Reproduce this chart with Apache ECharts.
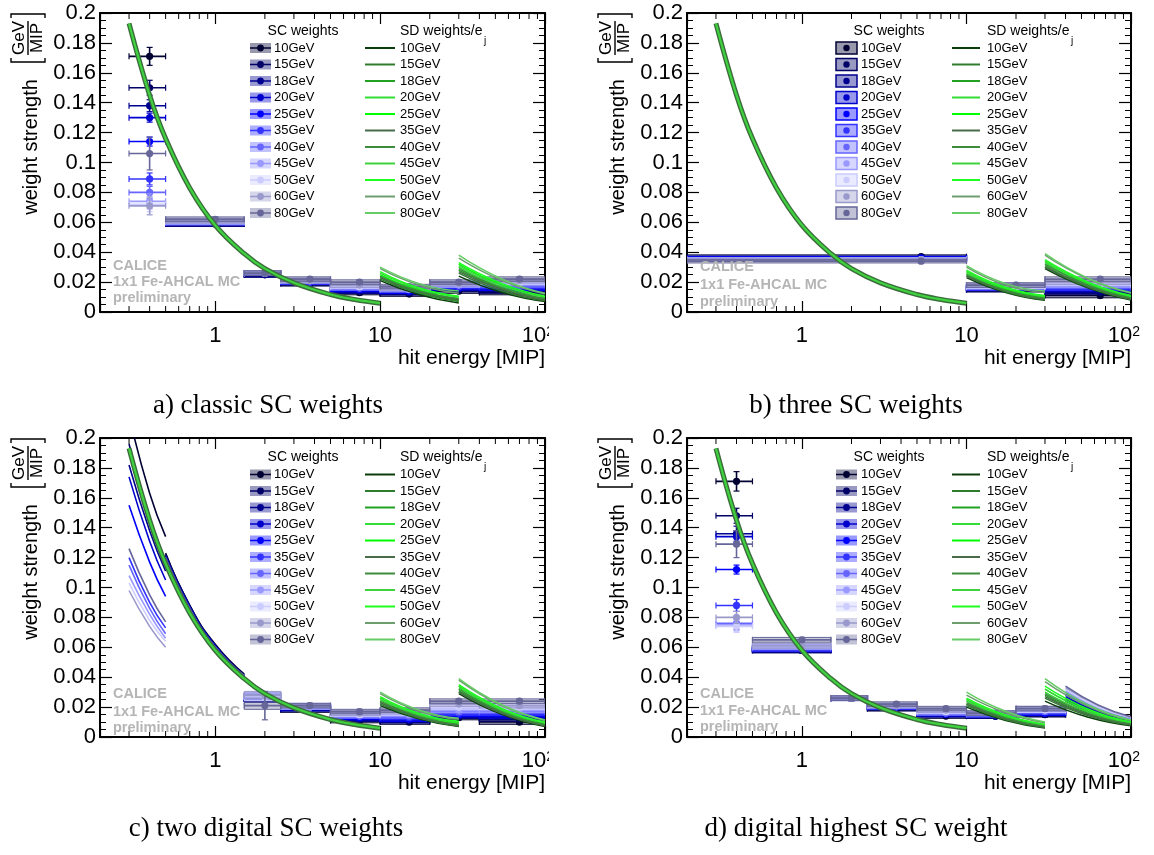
<!DOCTYPE html>
<html><head><meta charset="utf-8">
<script src="https://cdn.jsdelivr.net/npm/echarts@6/dist/echarts.min.js"></script>
<style>html,body{margin:0;padding:0;background:#fff}#c{width:1154px;height:855px}</style>
</head><body><div id="c"></div>
<script>
// ---------------- data ----------------
const energies = ['10GeV','15GeV','18GeV','20GeV','25GeV','35GeV','40GeV','45GeV','50GeV','60GeV','80GeV'];
const scColors = ['#000033','#000066','#00008f','#0000cc','#0000ff','#3333ff','#6666ff','#9999ff','#ccccff','#9999cc','#666699'];
const sdColors = ['#0b3d0b','#2e7d2e','#22a022','#33dd33','#00ff00','#4a6b4a','#3c8c3c','#3fd43f','#1fff1f','#6e9e6e','#66cc66'];
const xMajor = [1, 10, 100];
const xMajorLabels = ['1', '10', '10²'];
const xMinor = [0.3,0.4,0.5,0.6,0.7,0.8,0.9,2,3,4,5,6,7,8,9,20,30,40,50,60,70,80,90];
const yTickLabels = ['0','0.02','0.04','0.06','0.08','0.1','0.12','0.14','0.16','0.18','0.2'];
const captions = ['a) classic SC weights','b) three SC weights','c) two digital SC weights','d) digital highest SC weight'];
const watermark = ['CALICE','1x1 Fe-AHCAL MC','preliminary'];
const yTitle = 'weight strength';
const yUnitTop = 'GeV';
const yUnitBottom = 'MIP';
const xTitle = 'hit energy [MIP]';
const scHeader = 'SC weights';
const sdHeader = 'SD weights/e';
const sdHeaderSub = 'j';

// shared SD weight band (low energy range)
const sdLowX = [0.3,0.4,0.5,0.7,1,1.5,2,3,5,7,10];
const sdLow  = [0.193,0.145,0.116,0.083,0.058,0.039,0.029,0.0195,0.0117,0.0084,0.0059];
const sdMidX = [10,17.3,30];
const sdHighX = [30,55,100];

// panel a: classic SC weights
const binsA = [[0.3,0.5],[0.5,1.5],[1.5,2.5],[2.5,5],[5,10],[10,20],[20,40],[40,100]];
const ptsA = [0.4,1,2,3.75,7.5,15,30,70];
const scA = [
 [0.171,0.059,0.025,0.019,0.013,0.012,0.014,0.013],
 [0.150,0.059,0.025,0.019,0.014,0.013,0.015,0.014],
 [0.138,0.059,0.025,0.020,0.014,0.013,0.016,0.015],
 [0.130,0.060,0.026,0.020,0.015,0.014,0.016,0.016],
 [0.114,0.060,0.026,0.020,0.015,0.014,0.017,0.016],
 [0.089,0.060,0.026,0.020,0.016,0.015,0.017,0.017],
 [0.080,0.060,0.026,0.021,0.016,0.015,0.018,0.018],
 [0.074,0.060,0.026,0.021,0.017,0.015,0.018,0.019],
 [0.072,0.061,0.026,0.021,0.017,0.016,0.019,0.020],
 [0.071,0.061,0.026,0.021,0.018,0.016,0.019,0.021],
 [0.106,0.062,0.026,0.022,0.020,0.017,0.020,0.022]
];
const errFirstA = [0.006,0.005,0.004,0.003,0.003,0.004,0.004,0.005,0.005,0.006,0.011];
const boxA = [0,0.0016,0.0016,0.0015,0.0015,0.0015,0.0015,0.0015];
const sd2A = [
 [0.021,0.0115,0.0060],[0.022,0.0125,0.0070],[0.023,0.0130,0.0075],[0.024,0.0140,0.0085],
 [0.025,0.0145,0.0090],[0.023,0.0135,0.0080],[0.024,0.0140,0.0090],[0.026,0.0155,0.0100],
 [0.027,0.0160,0.0105],[0.029,0.0180,0.0125],[0.030,0.0190,0.0140]
];
const sd3A = [
 [0.024,0.0130,0.0070],[0.026,0.0140,0.0075],[0.028,0.0155,0.0085],[0.030,0.0165,0.0090],
 [0.032,0.0180,0.0100],[0.027,0.0150,0.0080],[0.029,0.0160,0.0090],[0.031,0.0175,0.0100],
 [0.033,0.0190,0.0105],[0.036,0.0210,0.0120],[0.038,0.0220,0.0125]
];

// panel b: three SC weights
const binsB = [[0.2,10],[10,30],[30,100]];
const ptsB = [5.3,20,65];
const scB = [
 [0.037,0.015,0.011],[0.036,0.015,0.013],[0.036,0.016,0.014],[0.036,0.016,0.015],
 [0.036,0.016,0.016],[0.035,0.016,0.016],[0.035,0.017,0.017],[0.035,0.017,0.018],
 [0.035,0.017,0.019],[0.035,0.018,0.020],[0.034,0.018,0.022]
];
const errFirstB = [0.0012,0.0012,0.0012,0.0012,0.0012,0.0012,0.0012,0.0012,0.0012,0.0012,0.0012];
const boxB = [0.0012,0.0015,0.0015];
const sd2B = [
 [0.023,0.0130,0.0078],[0.024,0.0135,0.0082],[0.025,0.0140,0.0088],[0.026,0.0150,0.0095],
 [0.027,0.0155,0.0100],[0.024,0.0140,0.0085],[0.025,0.0145,0.0092],[0.027,0.0160,0.0105],
 [0.028,0.0165,0.0110],[0.030,0.0180,0.0130],[0.031,0.0190,0.0140]
];
const sd3B = [
 [0.029,0.0160,0.0080],[0.030,0.0165,0.0085],[0.031,0.0170,0.0090],[0.033,0.0180,0.0095],
 [0.034,0.0190,0.0100],[0.030,0.0170,0.0085],[0.032,0.0180,0.0095],[0.034,0.0195,0.0105],
 [0.035,0.0200,0.0110],[0.038,0.0220,0.0125],[0.039,0.0225,0.0130]
];

// panel c: two digital SC weights
const binsC = [[1.5,2.5],[2.5,5],[5,10],[10,20],[20,40],[40,100]];
const ptsC = [2,3.75,7.5,15,30,70];
const scC = [
 [0.026,0.018,0.011,0.010,0.013,0.010],[0.026,0.019,0.012,0.011,0.014,0.012],
 [0.026,0.019,0.012,0.011,0.014,0.013],[0.026,0.019,0.013,0.012,0.015,0.014],
 [0.027,0.020,0.013,0.012,0.015,0.015],[0.027,0.020,0.014,0.013,0.016,0.016],
 [0.027,0.020,0.014,0.014,0.017,0.017],[0.027,0.020,0.015,0.015,0.018,0.018],
 [0.027,0.021,0.015,0.016,0.020,0.020],[0.028,0.021,0.016,0.017,0.022,0.021],
 [0.021,0.021,0.017,0.018,0.024,0.024]
];
const errFirstC = [0.002,0.002,0.002,0.002,0.002,0.002,0.002,0.002,0.002,0.002,0.0095];
const boxC = [0.0025,0.0015,0.0015,0.0015,0.0015,0.0015];
const digXC1 = [0.3,0.4,0.5];
const digC1 = [
 [0.215,0.163,0.134],[0.196,0.147,0.118],[0.182,0.138,0.111],[0.174,0.131,0.105],
 [0.155,0.117,0.094],[0.120,0.090,0.073],[0.115,0.086,0.069],[0.108,0.082,0.066],
 [0.103,0.078,0.064],[0.098,0.074,0.060],[0.126,0.095,0.077]
];
const digXC2 = [0.5,0.7,1,1.5];
const digC2 = [
 [0.123,0.088,0.062,0.042],[0.122,0.088,0.061,0.041],[0.121,0.087,0.061,0.041],[0.121,0.087,0.061,0.041],
 [0.120,0.086,0.060,0.041],[0.119,0.085,0.060,0.040],[0.119,0.085,0.060,0.040],[0.118,0.085,0.059,0.040],
 [0.118,0.084,0.059,0.040],[0.118,0.084,0.059,0.040],[0.120,0.086,0.060,0.041]
];
const sd2C = [
 [0.021,0.0120,0.0070],[0.022,0.0125,0.0074],[0.023,0.0130,0.0078],[0.025,0.0140,0.0088],
 [0.026,0.0150,0.0095],[0.023,0.0130,0.0076],[0.024,0.0138,0.0084],[0.026,0.0150,0.0098],
 [0.027,0.0158,0.0105],[0.029,0.0172,0.0118],[0.030,0.0180,0.0125]
];
const sd3C = [
 [0.029,0.0150,0.0070],[0.030,0.0157,0.0075],[0.031,0.0163,0.0080],[0.033,0.0175,0.0088],
 [0.034,0.0182,0.0093],[0.030,0.0158,0.0076],[0.032,0.0168,0.0084],[0.034,0.0183,0.0095],
 [0.035,0.0190,0.0100],[0.038,0.0208,0.0110],[0.039,0.0214,0.0114]
];

// panel d: digital highest SC weight
const binsD = [[0.3,0.5],[0.5,1.5],[1.5,2.5],[2.5,5],[5,10],[10,20],[20,40]];
const ptsD = [0.4,1,2,3.75,7.5,15,30];
const scD = [
 [0.171,0.058,0.026,0.019,0.014,0.014,0.015],[0.148,0.058,0.026,0.019,0.015,0.014,0.015],
 [0.136,0.058,0.026,0.020,0.015,0.014,0.016],[0.134,0.059,0.026,0.020,0.015,0.015,0.016],
 [0.112,0.059,0.026,0.020,0.016,0.015,0.016],[0.088,0.059,0.026,0.020,0.016,0.015,0.017],
 [0.076,0.060,0.026,0.021,0.016,0.015,0.017],[0.075,0.060,0.026,0.021,0.017,0.016,0.018],
 [0.074,0.061,0.026,0.021,0.017,0.016,0.018],[0.080,0.061,0.026,0.021,0.018,0.016,0.019],
 [0.129,0.065,0.026,0.022,0.019,0.016,0.019]
];
const errFirstD = [0.0065,0.005,0.005,0.004,0.003,0.004,0.004,0.004,0.004,0.004,0.009];
const boxD = [0,0.0016,0.0016,0.0015,0.0015,0.0015,0.0015];
const digXD = [40,63,100];
const digD = [
 [0.024,0.0150,0.0095],[0.025,0.0160,0.0100],[0.026,0.0165,0.0105],[0.027,0.0170,0.0110],
 [0.028,0.0180,0.0110],[0.029,0.0185,0.0115],[0.030,0.0190,0.0120],[0.031,0.0195,0.0125],
 [0.032,0.0200,0.0130],[0.033,0.0210,0.0130],[0.034,0.0215,0.0135]
];
const sd2D = [
 [0.020,0.0110,0.0060],[0.021,0.0116,0.0064],[0.022,0.0122,0.0068],[0.024,0.0134,0.0076],
 [0.025,0.0140,0.0080],[0.022,0.0122,0.0066],[0.023,0.0128,0.0072],[0.025,0.0142,0.0082],
 [0.026,0.0148,0.0086],[0.028,0.0162,0.0095],[0.030,0.0172,0.0100]
];
const sd3D = [
 [0.024,0.0132,0.0076],[0.026,0.0142,0.0080],[0.028,0.0152,0.0085],[0.030,0.0165,0.0092],
 [0.032,0.0176,0.0098],[0.027,0.0148,0.0082],[0.029,0.0158,0.0088],[0.032,0.0176,0.0097],
 [0.034,0.0186,0.0102],[0.037,0.0204,0.0110],[0.039,0.0214,0.0114]
];

// ---------------- layout / assembly ----------------
const FONT = '"Liberation Sans", Arial, Helvetica, sans-serif';
const SERIF = '"Liberation Serif", "Times New Roman", serif';

const panels = [
 {bins:binsA, pts:ptsA, sc:scA, errFirst:errFirstA, box:boxA, sd2:sd2A, sd3:sd3A, dig:[]},
 {bins:binsB, pts:ptsB, sc:scB, errFirst:errFirstB, box:boxB, sd2:sd2B, sd3:sd3B, dig:[]},
 {bins:binsC, pts:ptsC, sc:scC, errFirst:errFirstC, box:boxC, sd2:sd2C, sd3:sd3C, dig:[{xs:digXC1, rows:digC1},{xs:digXC2, rows:digC2}]},
 {bins:binsD, pts:ptsD, sc:scD, errFirst:errFirstD, box:boxD, sd2:sd2D, sd3:sd3D, dig:[{xs:digXD, rows:digD}]}
];

const L = [
 {left:100, top:13, w:445, h:299, capX:268, capY:406, ytX:31, ytY:147, frX:28, frY:38, wmX:113, wmY:[265.5,282,297.5], xtY:358,
  leg:{head:31, row0:48, iconX:250, textX:274, scHeadX:303, sdX1:365, sdX2:395, sdTextX:400, boxStyle:false}},
 {left:687, top:13, w:444, h:299, capX:856, capY:406, ytX:618, ytY:147, frX:615, frY:38, wmX:700, wmY:[267,285,302], xtY:358,
  leg:{head:31, row0:48, iconX:836, textX:861, scHeadX:889, sdX1:952, sdX2:980, sdTextX:987, boxStyle:true}},
 {left:100, top:438, w:445, h:299, capX:266, capY:829, ytX:31, ytY:572, frX:28, frY:463, wmX:113, wmY:[694,712,728], xtY:783,
  leg:{head:457, row0:474.5, iconX:250, textX:274, scHeadX:303, sdX1:365, sdX2:395, sdTextX:400, boxStyle:false}},
 {left:687, top:438, w:444, h:299, capX:856, capY:829, ytX:618, ytY:572, frX:615, frY:463, wmX:700, wmY:[694,711,727], xtY:783,
  leg:{head:457.5, row0:474.5, iconX:836, textX:861, scHeadX:889, sdX1:952, sdX2:980, sdTextX:987, boxStyle:false}}
];

function rgba(hex, a) {
  const n = parseInt(hex.slice(1), 16);
  return 'rgba(' + ((n >> 16) & 255) + ',' + ((n >> 8) & 255) + ',' + (n & 255) + ',' + a + ')';
}

function xLabelFmt(v) {
  const k = xMajor.findIndex(m => Math.abs(Math.log10(m) - Math.log10(v)) < 1e-6);
  if (k < 0) return '';
  const s = xMajorLabels[k];
  if (s.indexOf('²') >= 0) return '{n|' + s.replace('²', '') + '}{s|2}';
  return '{n|' + s + '}';
}
function yLabelFmt(v) {
  const s = yTickLabels.find(t => Math.abs(parseFloat(t) - v) < 1e-9);
  return s === undefined ? '' : s;
}

const grids = [], xAxes = [], yAxes = [];
L.forEach((l, i) => {
  grids.push({left:l.left, top:l.top, width:l.w, height:l.h, containLabel:false, outerBoundsMode:'none'});
  const axLine = {show:true, onZero:false, lineStyle:{color:'#000', width:2}};
  xAxes.push({type:'log', logBase:10, gridIndex:i, min:0.2, max:100, position:'bottom',
    axisLine:axLine, axisTick:{show:true, inside:true, length:11, lineStyle:{color:'#000', width:1.2}},
    splitLine:{show:false}, minorTick:{show:false},
    axisLabel:{show:true, margin:13, formatter:xLabelFmt, color:'#000',
      rich:{n:{fontSize:22, fontFamily:FONT, color:'#000', verticalAlign:'top'},
            s:{fontSize:14, fontFamily:FONT, color:'#000', verticalAlign:'top', padding:[0,14,0,0]}}}});
  xAxes.push({type:'log', logBase:10, gridIndex:i, min:0.2, max:100, position:'top',
    axisLine:axLine, axisTick:{show:true, inside:true, length:11, lineStyle:{color:'#000', width:1.2}},
    splitLine:{show:false}, axisLabel:{show:false}});
  yAxes.push({type:'value', gridIndex:i, min:0, max:0.2, interval:0.02, position:'left',
    axisLine:axLine, axisTick:{show:true, inside:true, length:12, lineStyle:{color:'#000', width:1.2}},
    minorTick:{show:true, splitNumber:4, length:6, lineStyle:{color:'#000', width:1}},
    splitLine:{show:false},
    axisLabel:{show:true, margin:4, fontSize:22, fontFamily:FONT, color:'#000', formatter:yLabelFmt}});
  yAxes.push({type:'value', gridIndex:i, min:0, max:0.2, interval:0.02, position:'right',
    axisLine:axLine, axisTick:{show:true, inside:true, length:12, lineStyle:{color:'#000', width:1.2}},
    minorTick:{show:true, splitNumber:4, length:6, lineStyle:{color:'#000', width:1}},
    splitLine:{show:false}, axisLabel:{show:false}});
});

function minorTickRender(params, api) {
  const v = api.value(0);
  const b = api.coord([v, 0]);
  const t = api.coord([v, 0.2]);
  return {type:'group', children:[
    {type:'line', shape:{x1:b[0], y1:b[1], x2:b[0], y2:b[1] - 6}, style:{stroke:'#000', lineWidth:1}},
    {type:'line', shape:{x1:t[0], y1:t[1], x2:t[0], y2:t[1] + 6}, style:{stroke:'#000', lineWidth:1}}
  ]};
}

function makeScRender(col) {
  return function (params, api) {
    const lo = api.value(0), hi = api.value(1), xc = api.value(2), y = api.value(3), err = api.value(4), bx = api.value(5);
    const pL = api.coord([lo, y]), pH = api.coord([hi, y]), pC = api.coord([xc, y]);
    const ch = [];
    if (bx > 0) {
      const a = api.coord([lo, y + bx]), b = api.coord([hi, y - bx]);
      ch.push({type:'rect', shape:{x:a[0], y:a[1], width:b[0] - a[0], height:b[1] - a[1]},
        style:{fill:rgba(col, 0.35), stroke:col, lineWidth:1}});
    }
    ch.push({type:'line', shape:{x1:pL[0], y1:pL[1], x2:pH[0], y2:pH[1]}, style:{stroke:col, lineWidth:1.6}});
    ch.push({type:'line', shape:{x1:pL[0], y1:pL[1] - 3, x2:pL[0], y2:pL[1] + 3}, style:{stroke:col, lineWidth:1.2}});
    ch.push({type:'line', shape:{x1:pH[0], y1:pH[1] - 3, x2:pH[0], y2:pH[1] + 3}, style:{stroke:col, lineWidth:1.2}});
    if (err > 0) {
      const et = api.coord([xc, y + err]), eb = api.coord([xc, y - err]);
      ch.push({type:'line', shape:{x1:et[0], y1:et[1], x2:eb[0], y2:eb[1]}, style:{stroke:col, lineWidth:1.6}});
      ch.push({type:'line', shape:{x1:et[0] - 3, y1:et[1], x2:et[0] + 3, y2:et[1]}, style:{stroke:col, lineWidth:1.2}});
      ch.push({type:'line', shape:{x1:eb[0] - 3, y1:eb[1], x2:eb[0] + 3, y2:eb[1]}, style:{stroke:col, lineWidth:1.2}});
    }
    ch.push({type:'circle', shape:{cx:pC[0], cy:pC[1], r:3.6}, style:{fill:col}});
    return {type:'group', children:ch};
  };
}

const series = [];
panels.forEach((pd, i) => {
  const xi = 2 * i, yi = 2 * i;
  series.push({type:'custom', xAxisIndex:xi, yAxisIndex:yi, data:xMinor.map(v => [v, 0]),
    encode:{x:0, y:1}, clip:false, silent:true, z:10, renderItem:minorTickRender});
  energies.forEach((en, e) => {
    const data = pd.sc[e].map((y, b) => [pd.bins[b][0], pd.bins[b][1], pd.pts[b], y,
      b === 0 ? pd.errFirst[e] : pd.box[b], pd.box[b]]);
    series.push({type:'custom', name:en, xAxisIndex:xi, yAxisIndex:yi, data,
      encode:{x:2, y:3}, clip:true, silent:true, z:2, renderItem:makeScRender(scColors[e])});
  });
  pd.dig.forEach(dg => dg.rows.forEach((row, e) => {
    series.push({type:'line', xAxisIndex:xi, yAxisIndex:yi, data:dg.xs.map((x, k) => [x, row[k]]),
      smooth:true, symbol:'none', clip:true, silent:true, z:3, lineStyle:{color:scColors[e], width:1.6}});
  }));
  [[sdMidX, pd.sd2], [sdHighX, pd.sd3]].forEach(([xs, rows]) => rows.forEach((row, e) => {
    series.push({type:'line', xAxisIndex:xi, yAxisIndex:yi, data:xs.map((x, k) => [x, row[k]]),
      smooth:true, symbol:'none', clip:true, silent:true, z:4, lineStyle:{color:sdColors[e], width:1.5}});
  }));
  series.push({type:'line', xAxisIndex:xi, yAxisIndex:yi, data:sdLowX.map((x, k) => [x, sdLow[k]]),
    smooth:0.4, symbol:'none', clip:true, silent:true, z:5, lineStyle:{color:'#3b6e3b', width:5}});
  series.push({type:'line', xAxisIndex:xi, yAxisIndex:yi, data:sdLowX.map((x, k) => [x, sdLow[k]]),
    smooth:0.4, symbol:'none', clip:true, silent:true, z:6, lineStyle:{color:'#3fd23f', width:2.2}});
});

// graphics: legends, titles, captions, watermark
const G = [];
function txt(x, y, text, font, fill, align, rot) {
  return {type:'text', x, y, rotation:rot || 0, z:50, silent:true,
    style:{text, font, fill:fill || '#000', textAlign:align || 'left', textVerticalAlign:'middle', verticalAlign:'middle'}};
}
L.forEach((l, i) => {
  const lg = l.leg;
  G.push(txt(lg.scHeadX, lg.head, scHeader, '14px ' + FONT, '#000', 'center'));
  G.push(txt(lg.sdTextX, lg.head, sdHeader, '14px ' + FONT, '#000', 'left'));
  G.push(txt(lg.sdTextX + 84, lg.head + 10, sdHeaderSub, '10px ' + FONT, '#000', 'left'));
  energies.forEach((en, e) => {
    const y = lg.row0 + e * 16.5;
    const c = scColors[e];
    if (lg.boxStyle) {
      G.push({type:'rect', z:50, silent:true, shape:{x:lg.iconX, y:y - 6, width:21, height:12},
        style:{fill:rgba(c, 0.4), stroke:c, lineWidth:1.5}});
      G.push({type:'circle', z:51, silent:true, shape:{cx:lg.iconX + 10.5, cy:y, r:3.2}, style:{fill:c}});
    } else {
      G.push({type:'rect', z:50, silent:true, shape:{x:lg.iconX, y:y - 5, width:21, height:10}, style:{fill:rgba(c, 0.4)}});
      G.push({type:'line', z:51, silent:true, shape:{x1:lg.iconX, y1:y, x2:lg.iconX + 21, y2:y}, style:{stroke:c, lineWidth:1.5}});
      G.push({type:'circle', z:51, silent:true, shape:{cx:lg.iconX + 10.5, cy:y, r:3.4}, style:{fill:c}});
    }
    G.push(txt(lg.textX, y, en, '13px ' + FONT, '#000', 'left'));
    G.push({type:'line', z:50, silent:true, shape:{x1:lg.sdX1, y1:y, x2:lg.sdX2, y2:y}, style:{stroke:sdColors[e], lineWidth:2}});
    G.push(txt(lg.sdTextX, y, en, '13px ' + FONT, '#000', 'left'));
  });
  // y-axis title
  G.push({type:'group', x:l.ytX, y:l.ytY, rotation:Math.PI / 2, z:50, silent:true, children:[
    {type:'text', x:0, y:0, style:{text:yTitle, font:'20px ' + FONT, fill:'#000', textAlign:'center', textVerticalAlign:'middle', verticalAlign:'middle'}}
  ]});
  G.push({type:'group', x:l.frX, y:l.frY, rotation:Math.PI / 2, z:50, silent:true, children:[
    {type:'text', x:0, y:-8.5, style:{text:yUnitTop, font:'17px ' + FONT, fill:'#000', textAlign:'center', textVerticalAlign:'middle', verticalAlign:'middle'}},
    {type:'line', shape:{x1:-17, y1:0, x2:17, y2:0}, style:{stroke:'#000', lineWidth:1.4}},
    {type:'text', x:0, y:9, style:{text:yUnitBottom, font:'17px ' + FONT, fill:'#000', textAlign:'center', textVerticalAlign:'middle', verticalAlign:'middle'}},
    {type:'polyline', shape:{points:[[-20,-17],[-24,-17],[-24,17],[-20,17]]}, style:{stroke:'#000', lineWidth:1.4, fill:null}},
    {type:'polyline', shape:{points:[[20,-17],[24,-17],[24,17],[20,17]]}, style:{stroke:'#000', lineWidth:1.4, fill:null}}
  ]});
  // x-axis title
  G.push(txt(l.left + l.w, l.xtY, xTitle, '21px ' + FONT, '#000', 'right'));
  // watermark
  watermark.forEach((w, k) => G.push(txt(l.wmX, l.wmY[k], w, 'bold 14.5px ' + FONT, '#b5b5b5', 'left')));
  // caption
  G.push(txt(l.capX, l.capY, captions[i], '27px ' + SERIF, '#000', 'center'));
});
// subfigure crop edge (clips the superscript of the last tick label in the left column)
G.push({type:'rect', z:60, silent:true, shape:{x:549, y:318, width:30, height:32}, style:{fill:'#fff'}});
G.push({type:'rect', z:60, silent:true, shape:{x:549, y:743, width:30, height:32}, style:{fill:'#fff'}});

const chart = echarts.init(document.getElementById('c'), null, {renderer:'canvas'});
chart.setOption({
  animation:false,
  backgroundColor:'#fff',
  grid:grids, xAxis:xAxes, yAxis:yAxes, series, graphic:{elements:G}
});
</script>
</body></html>
